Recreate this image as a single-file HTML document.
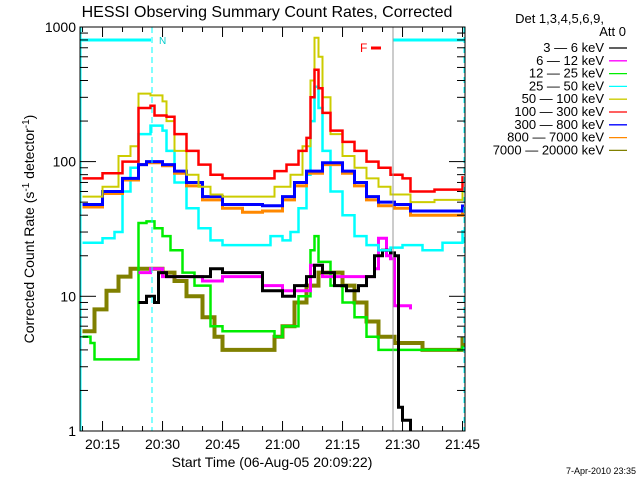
<!DOCTYPE html>
<html><head><meta charset="utf-8"><style>
body{margin:0;background:#fff;}
svg{display:block;font-family:"Liberation Sans",sans-serif;}
</style></head><body>
<svg id="c" width="640" height="480" viewBox="0 0 640 480">
<defs><clipPath id="clip"><rect x="80" y="27" width="385" height="404"/></clipPath></defs>
<text x="267" y="17" font-size="16" text-anchor="middle">HESSI Observing Summary Count Rates, Corrected</text>
<g id="plot" clip-path="url(#clip)"></g>
<g id="axes"></g>
<text transform="translate(34,229) rotate(-90)" font-size="14" text-anchor="middle">Corrected Count Rate (s<tspan dy="-5" font-size="10">-1</tspan><tspan dy="5"> detector</tspan><tspan dy="-5" font-size="10">-1</tspan><tspan dy="5">)</tspan></text>
<text x="272" y="467" font-size="14" text-anchor="middle">Start Time (06-Aug-05 20:09:22)</text>
<text x="636" y="474" font-size="9" text-anchor="end">7-Apr-2010 23:35</text>
<g id="legend">
<text x="604" y="23" font-size="13" text-anchor="end">Det 1,3,4,5,6,9,</text>
<text x="626" y="36" font-size="13" text-anchor="end">Att 0</text>
</g>
</svg>
<script>
const NS="http://www.w3.org/2000/svg";
const labels=["3 — 6 keV","6 — 12 keV","12 — 25 keV","25 — 50 keV","50 — 100 keV","100 — 300 keV","300 — 800 keV","800 — 7000 keV","7000 — 20000 keV"];
const colors=["#000000","#ff00ff","#00ee00","#00ffff","#cccc00","#ff0000","#0000ff","#ff8800","#808000"];
const tBlack=[24,26,28,29,31,35,40,42,45,50,55,60,63,66,68,70,73,76,79,81,83,85,87,88,89,90,92];
const vBlack=[9,10,9,15,14,14,14,16,15,15,11,10,12,14,17,15,12,11,12,14,20,22,21,20,1.5,1.2,1];
const tMag=[24,27,30,35,40,45,50,55,60,63,67,70,75,80,83,84,86,87,88,90,92];
const vMag=[15,16,14,14,13,14,14,12,11,11,17,14,14,14,16,27,20,19,8.5,8.5,8];
const tGreen=[10,12,13,14,23,24,26,28,30,32,35,38,42,45,50,55,58,60,64,67,68,69,72,75,78,81,84,88,95,105];
const vGreen=[5,4.5,3.4,3.4,3.4,35,36,32,28,22,15,12,6,5.5,5.5,5.5,5,6,10,22,28,18,12,9,7,5,4,4,4,4.3];
const tCyan=[10,15,18,20,22,24,27,30,31,33,36,39,42,45,55,57,60,62,64,66,67,68,69,70,72,75,78,81,84,87,90,95,100,105];
const vCyan=[25,27,30,60,90,160,185,170,120,70,45,32,26,24,24,28,26,30,45,80,200,360,250,120,60,40,28,24,22,23,24,22,25,31];
const tYellow=[10,15,19,22,24,27,30,31,33,36,39,42,45,55,58,62,65,67,68,69,70,72,75,78,81,84,87,92,98,105];
const vYellow=[55,65,110,130,320,310,280,200,120,80,65,57,55,55,65,80,130,400,830,600,300,160,110,90,75,65,57,50,52,68];
const tRed=[10,15,20,24,27,28,31,33,36,39,42,45,55,58,61,64,66,67,68,69,70,72,75,78,81,84,87,90,92,98,105];
const vRed=[75,82,100,250,260,220,215,160,120,95,80,75,75,85,95,120,150,300,480,350,230,170,140,120,100,90,80,75,60,62,78];
const tBlue=[10,15,20,24,26,30,33,36,40,45,55,60,63,66,70,72,75,78,81,84,88,92,98,105];
const vBlue=[48,60,75,95,100,95,85,70,55,48,47,55,70,85,98,98,85,70,55,50,48,43,43,48];
const tOrange=[10,15,20,24,26,30,33,36,40,45,50,55,60,63,66,70,72,75,78,81,84,88,92,98,105];
const vOrange=[46,58,73,95,98,93,82,66,52,45,42,43,52,66,82,95,95,82,66,52,47,45,40,40,46];
const tOlive=[10,13,16,19,22,27,30,33,36,40,43,45,50,55,58,60,63,66,69,72,75,78,81,84,88,95,105];
const vOlive=[5.5,8,11,14,16,16,15,13,10,7,5,4,4,4,5,6,9,12,15,15,12,9,6.5,5,4.5,4,5];
const seriesT=[tBlack,tMag,tGreen,tCyan,tYellow,tRed,tBlue,tOrange,tOlive];
const seriesV=[vBlack,vMag,vGreen,vCyan,vYellow,vRed,vBlue,vOrange,vOlive];
const xTickLabels=["20:15","20:30","20:45","21:00","21:15","21:30","21:45"];
const xTickTimes=[15,30,45,60,75,90,105];
const yTickLabels=["1","10","100","1000"];
const yTickVals=[1,10,100,1000];

const X0=80,X1=465,Y0=27,Y1=431,T0=9.367;
function xs(t){return X0+4*(t-T0);}
function ys(v){return Y1-134.7*Math.log10(v);}
const plot=document.getElementById('plot'),axes=document.getElementById('axes'),leg=document.getElementById('legend');
function mk(tag,attrs,parent){const e=document.createElementNS(NS,tag);for(const k in attrs)e.setAttribute(k,attrs[k]);parent.appendChild(e);return e;}

const order=[8,2,1,0,3,7,6,4,5];
const widths=[3,3,2.5,2.5,2,2.5,3,3,4];
order.forEach(i=>{
  const T=seriesT[i],V=seriesV[i];let d="";
  for(let k=0;k<T.length;k++){
    const x=xs(T[k]).toFixed(1),y=ys(V[k]).toFixed(1);
    if(k===0)d+="M"+x+","+y;else d+="H"+x+"V"+y;
  }
  const p=mk('path',{d:d,fill:'none',stroke:colors[i],'stroke-width':widths[i]},plot);
  
  
});

const ann=[
 ['line',{x1:80,y1:40,x2:151,y2:40,stroke:'#00ffff','stroke-width':3},'night-bar-left'],
 ['line',{x1:393,y1:40,x2:464,y2:40,stroke:'#00ffff','stroke-width':3},'night-bar-right'],
 ['line',{x1:152,y1:27,x2:152,y2:431,stroke:'#00ffff','stroke-width':1,'stroke-dasharray':'6,4'},'night-start-line'],
 ['line',{x1:464,y1:27,x2:464,y2:431,stroke:'#00ffff','stroke-width':1,'stroke-dasharray':'6,4'},'night-end-line'],
 ['line',{x1:81,y1:27,x2:81,y2:431,stroke:'#00ffff','stroke-width':1},'start-line'],
 ['line',{x1:393,y1:27,x2:393,y2:431,stroke:'#999999','stroke-width':1},'saa-line'],
 ['line',{x1:371,y1:48,x2:381,y2:48,stroke:'#ff0000','stroke-width':3},'flare-bar']
];
ann.forEach(a=>{const e=mk(a[0],a[1],plot);});
const nT=mk('text',{x:159,y:44,'font-size':10,fill:'#00cccc'},plot);nT.textContent="N";


const fT=mk('text',{x:360,y:52,'font-size':12,fill:'#ff0000'},plot);fT.textContent="F";



const fr=mk('rect',{x:X0,y:Y0,width:X1-X0,height:Y1-Y0,fill:'none',stroke:'#000','stroke-width':1},axes);


for(let t=10;t<=105;t+=5){
  const major=(t%15===0),L=major?10:5,x=xs(t);
  const a=mk('line',{x1:x,y1:Y1,x2:x,y2:Y1-L,stroke:'#000'},axes);
  
  
  const b=mk('line',{x1:x,y1:Y0,x2:x,y2:Y0+L,stroke:'#000'},axes);
  
  
}
xTickTimes.forEach((t,i)=>{
  const e=mk('text',{x:xs(t),y:449,'font-size':14,'text-anchor':'middle'},axes);e.textContent=xTickLabels[i];
  
  
});
for(let d=0;d<3;d++)for(let m=1;m<=9;m++){
  const v=m*Math.pow(10,d),y=ys(v),L=m===1?16:8;
  const a=mk('line',{x1:X0,y1:y,x2:X0+L,y2:y,stroke:'#000'},axes);
  
  
  const b=mk('line',{x1:X1,y1:y,x2:X1-L,y2:y,stroke:'#000'},axes);
  
  
}
yTickVals.forEach((v,i)=>{
  const e=mk('text',{x:76,y:ys(v)+5,'font-size':14,'text-anchor':'end'},axes);e.textContent=yTickLabels[i];
  
  
});
labels.forEach((l,i)=>{
  const y=52+i*12.8;
  const e=mk('text',{x:604,y:y,'font-size':13,'text-anchor':'end'},leg);e.textContent=l;
  
  
  const s=mk('line',{x1:609,y1:y-4,x2:627,y2:y-4,stroke:colors[i],'stroke-width':1.3},leg);
  
  
});
</script>
</body></html>
